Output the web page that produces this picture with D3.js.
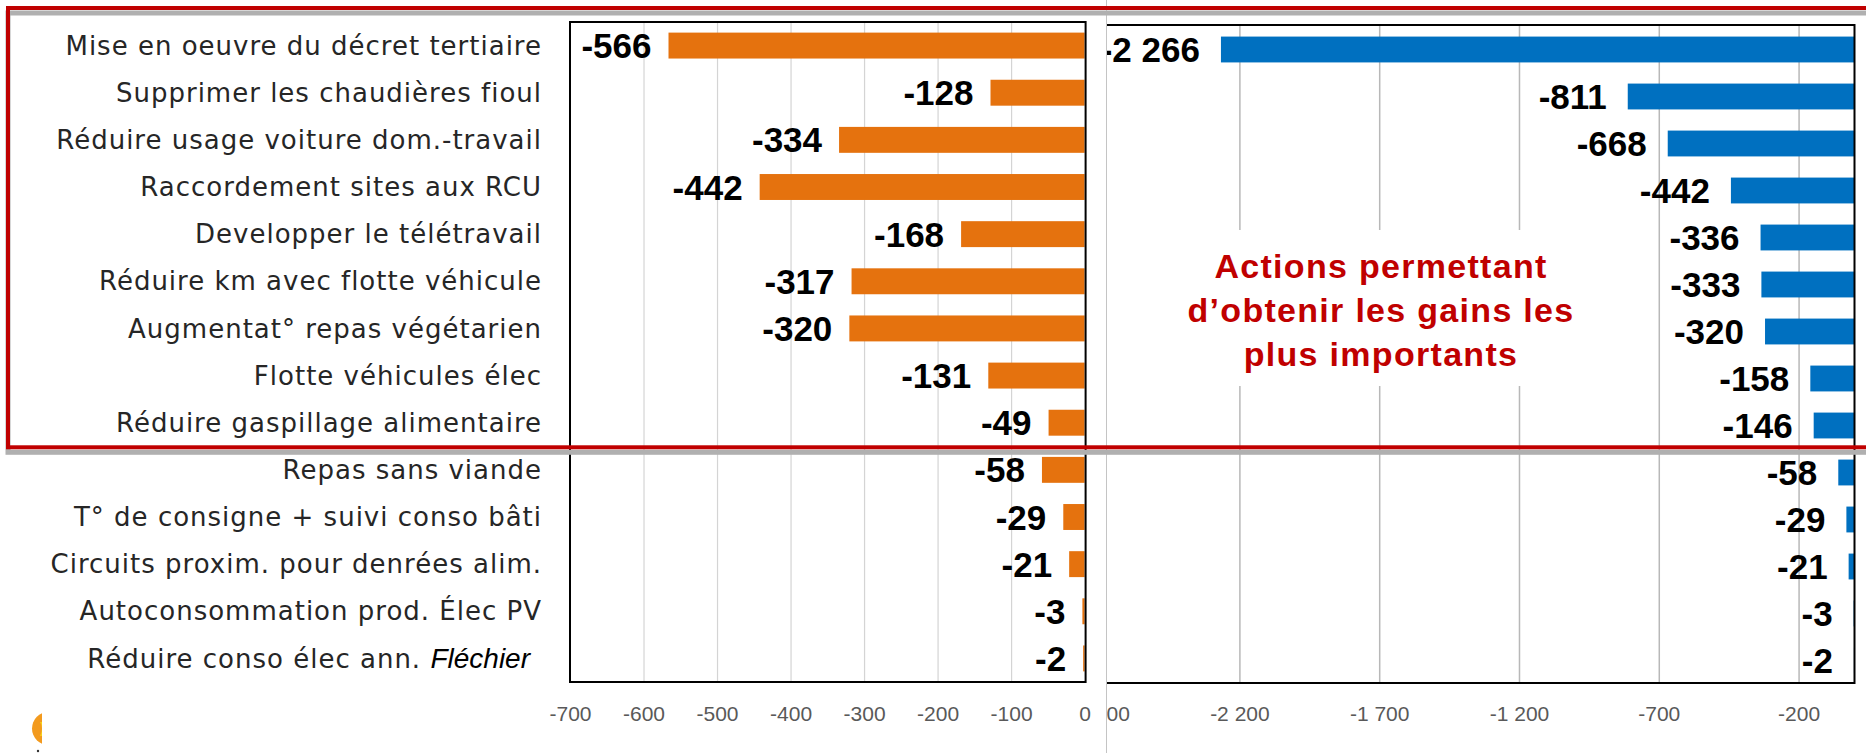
<!DOCTYPE html>
<html lang="fr">
<head>
<meta charset="utf-8">
<script src="https://cdn.jsdelivr.net/npm/d3@7"></script>
<style>
  html, body { margin: 0; padding: 0; background: #ffffff; }
  svg { display: block; }
</style>
</head>
<body>
<svg id="chart" width="1866" height="753"></svg>
<script>
// Actions et gains associés (valeurs négatives = réductions)
const categories = [
  "Mise en oeuvre du décret tertiaire",
  "Supprimer les chaudières fioul",
  "Réduire usage voiture dom.-travail",
  "Raccordement sites aux RCU",
  "Developper le télétravail",
  "Réduire km avec flotte véhicule",
  "Augmentat° repas végétarien",
  "Flotte véhicules élec",
  "Réduire gaspillage alimentaire",
  "Repas sans viande",
  "T° de consigne + suivi conso bâti",
  "Circuits proxim.  pour denrées alim.",
  "Autoconsommation prod. Élec PV",
  "Réduire conso élec ann. Fléchier"
];
const leftValues  = [-566, -128, -334, -442, -168, -317, -320, -131, -49, -58, -29, -21, -3, -2];
const rightValues = [-2266, -811, -668, -442, -336, -333, -320, -158, -146, -58, -29, -21, -3, -2];
const leftTicks  = [-700, -600, -500, -400, -300, -200, -100, 0];
const rightTicks = [-2700, -2200, -1700, -1200, -700, -200];
const annotationLines = ["Actions permettant", "d’obtenir les gains les", "plus importants"];
const highlightedCount = 9;
const italicName = "Fléchier";

const fr = d3.formatLocale({ decimal: ",", thousands: " ", grouping: [3], currency: ["", " €"], minus: "-" });
const fmt = fr.format(",d");

const svg = d3.select("#chart");

// ---------- Left panel ----------
const L = { x0: 570, x1: 1084.6, y0: 22, y1: 682 };
const xL = d3.scaleLinear().domain([-700, 0]).range([L.x0, L.x1]);
const yL = d3.scaleBand().domain(categories).range([L.y0, L.y1]).paddingInner(0.45).paddingOuter(0.225);

const left = svg.append("g");

left.append("g")
  .attr("transform", `translate(0,${L.y1})`)
  .call(d3.axisBottom(xL).tickValues(leftTicks.slice(1, -1)).tickSize(-(L.y1 - L.y0)).tickFormat(""))
  .call(g => g.select(".domain").remove())
  .call(g => g.selectAll("line").attr("stroke", "#d4d4d4").attr("stroke-width", 1.2));

left.append("g").selectAll("rect")
  .data(categories)
  .join("rect")
  .attr("x", (d, i) => xL(leftValues[i]))
  .attr("y", d => yL(d))
  .attr("width", (d, i) => xL(0) - xL(leftValues[i]))
  .attr("height", yL.bandwidth())
  .attr("fill", "#E5720E");

left.append("g").selectAll("text")
  .data(categories)
  .join("text")
  .attr("x", (d, i) => xL(leftValues[i]) - 17)
  .attr("y", d => yL(d) + yL.bandwidth() / 2)
  .attr("dy", "0.36em")
  .attr("text-anchor", "end")
  .attr("font-family", "Liberation Sans, Arial, sans-serif")
  .attr("font-weight", "bold")
  .attr("font-size", 35)
  .attr("fill", "#000")
  .text((d, i) => fmt(leftValues[i]));

left.append("rect")
  .attr("x", L.x0).attr("y", L.y0)
  .attr("width", L.x1 - L.x0 + 1).attr("height", L.y1 - L.y0)
  .attr("fill", "none").attr("stroke", "#000").attr("stroke-width", 2);

left.append("g")
  .attr("transform", `translate(0,${L.y1})`)
  .call(d3.axisBottom(xL).tickValues(leftTicks).tickSize(0).tickPadding(24).tickFormat(fmt))
  .call(g => g.select(".domain").remove())
  .call(g => g.selectAll("text")
    .attr("font-family", "Liberation Sans, Arial, sans-serif")
    .attr("font-size", 21).attr("fill", "#595959"));

// Category labels
const catG = svg.append("g")
  .attr("font-family", "DejaVu Sans, sans-serif")
  .attr("font-size", 26)
  .attr("letter-spacing", 1)
  .attr("fill", "#262626");

categories.forEach(c => {
  const t = catG.append("text")
    .attr("y", yL(c) + yL.bandwidth() / 2)
    .attr("dy", "0.35em")
    .attr("text-anchor", "end");
  if (c.endsWith(italicName)) {
    t.attr("x", 530);
    t.append("tspan").text(c.slice(0, c.length - italicName.length));
    t.append("tspan")
      .attr("font-family", "Liberation Sans, Arial, sans-serif")
      .attr("font-style", "italic")
      .attr("font-size", 28)
      .attr("letter-spacing", 0)
      .attr("fill", "#000")
      .text(italicName);
  } else {
    t.attr("x", 542).text(c);
  }
});

// ---------- Right panel (cropped on its left side) ----------
const R = { x0: 1099.6, x1: 1854.5, y0: 25, y1: 683, clipX: 1107 };
const xR = d3.scaleLinear().domain([-2700, 0]).range([R.x0, R.x1]);
const yR = d3.scaleBand().domain(categories).range([R.y0 + 1, R.y1 + 1]).paddingInner(0.45).paddingOuter(0.225);

svg.append("defs").append("clipPath").attr("id", "rightClip")
  .append("rect").attr("x", R.clipX).attr("y", 0).attr("width", 1866 - R.clipX).attr("height", 753);

const right = svg.append("g").attr("clip-path", "url(#rightClip)");

right.append("g")
  .attr("transform", `translate(0,${R.y1})`)
  .call(d3.axisBottom(xR).tickValues(rightTicks).tickSize(-(R.y1 - R.y0)).tickFormat(""))
  .call(g => g.select(".domain").remove())
  .call(g => g.selectAll("line").attr("stroke", "#b8b8b8").attr("stroke-width", 1.5));

// white backdrop behind the annotation
right.append("rect")
  .attr("x", 1180).attr("y", 230).attr("width", 410).attr("height", 156)
  .attr("fill", "#fff");

right.append("g").selectAll("rect")
  .data(categories)
  .join("rect")
  .attr("x", (d, i) => xR(rightValues[i]))
  .attr("y", d => yR(d))
  .attr("width", (d, i) => xR(0) - xR(rightValues[i]))
  .attr("height", yR.bandwidth())
  .attr("fill", "#0070C0");

right.append("g").selectAll("text")
  .data(categories)
  .join("text")
  .attr("x", (d, i) => xR(rightValues[i]) - 21)
  .attr("y", d => yR(d) + yR.bandwidth() / 2)
  .attr("dy", "0.36em")
  .attr("text-anchor", "end")
  .attr("font-family", "Liberation Sans, Arial, sans-serif")
  .attr("font-weight", "bold")
  .attr("font-size", 35)
  .attr("fill", "#000")
  .text((d, i) => fmt(rightValues[i]));

right.append("path")
  .attr("d", `M${R.clipX - 2},${R.y0}H${R.x1}V${R.y1}H${R.clipX - 2}`)
  .attr("fill", "none").attr("stroke", "#000").attr("stroke-width", 2);

right.append("g")
  .attr("transform", `translate(0,${R.y1})`)
  .call(d3.axisBottom(xR).tickValues(rightTicks).tickSize(0).tickPadding(23).tickFormat(fmt))
  .call(g => g.select(".domain").remove())
  .call(g => g.selectAll("text")
    .attr("font-family", "Liberation Sans, Arial, sans-serif")
    .attr("font-size", 21).attr("fill", "#595959"));

// Annotation
svg.append("g").selectAll("text")
  .data(annotationLines)
  .join("text")
  .attr("x", 1381)
  .attr("y", (d, i) => 278 + i * 44)
  .attr("text-anchor", "middle")
  .attr("font-family", "Liberation Sans, Arial, sans-serif")
  .attr("font-weight", "bold")
  .attr("font-size", 34)
  .attr("letter-spacing", 1.3)
  .attr("fill", "#C00000")
  .text(d => d);

// thin separator at the panel crop
svg.append("line")
  .attr("x1", R.clipX - 0.5).attr("x2", R.clipX - 0.5)
  .attr("y1", 0).attr("y2", 753)
  .attr("stroke", "#c4c4c4").attr("stroke-width", 1);

// Highlight box around the most significant actions
const boxTop = 8;
const boxBottom = (yL(categories[highlightedCount - 1]) + yL(categories[highlightedCount])) / 2 + yL.bandwidth() / 2 + 1;
svg.append("rect")
  .attr("x", 8).attr("y", boxTop + 5)
  .attr("width", 1900).attr("height", boxBottom - boxTop)
  .attr("fill", "none").attr("stroke", "#b0b0b0").attr("stroke-width", 5);
svg.append("rect")
  .attr("x", 8).attr("y", boxTop)
  .attr("width", 1900).attr("height", boxBottom - boxTop)
  .attr("fill", "none").attr("stroke", "#C00000").attr("stroke-width", 4);

// Partial logo at the bottom-left corner
svg.append("defs").append("clipPath").attr("id", "logoClip")
  .append("rect").attr("x", 0).attr("y", 700).attr("width", 42).attr("height", 53);
const logo = svg.append("g").attr("clip-path", "url(#logoClip)");
logo.append("circle").attr("cx", 48.5).attr("cy", 728.5).attr("r", 16.5).attr("fill", "#F39A1E");
logo.append("path").attr("d", "M40,722 Q44,728 40,736 L44,736 Q47,728 44,722 Z").attr("fill", "#F7D21A");
svg.append("circle").attr("cx", 38).attr("cy", 751).attr("r", 1.2).attr("fill", "#333");
</script>
</body>
</html>
